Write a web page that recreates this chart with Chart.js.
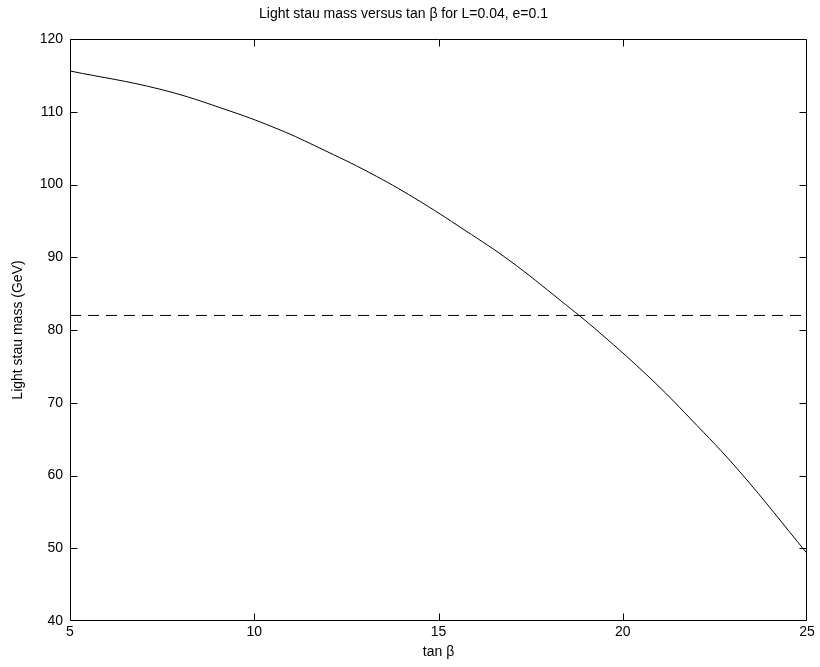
<!DOCTYPE html>
<html>
<head>
<meta charset="utf-8">
<script src="https://cdn.jsdelivr.net/npm/chart.js@4.4.1/dist/chart.umd.min.js"></script>
<style>
  html, body { margin: 0; padding: 0; background: #fff; }
  #wrap { width: 820px; height: 667px; }
</style>
</head>
<body>
<div id="wrap"><canvas id="c" width="820" height="667"></canvas></div>
<script>
// tan(beta) values where the curve was read
const tanBeta = [5, 7.44, 9.34, 10.70, 11.78, 13.14, 14.36, 15.72, 16.94, 18.30, 19.38, 20.74, 21.82, 23.18, 25];
// light stau mass (GeV)
const stauMass = [115.6, 113.1, 110.1, 107.5, 105.0, 101.6, 98.1, 93.7, 89.5, 84.1, 79.6, 73.4, 67.9, 60.5, 49.3];
// horizontal reference (experimental bound)
const boundX = [5, 25];
const boundY = [82, 82];
// tick labels
const xTicks = [5, 10, 15, 20, 25];
const yTicks = [40, 50, 60, 70, 80, 90, 100, 110, 120];

const FONT = '"Liberation Sans", Arial, Helvetica, sans-serif';

const boxPlugin = {
  id: 'matlabBox',
  afterDraw(chart) {
    const {ctx, chartArea: a, scales} = chart;
    ctx.save();
    ctx.strokeStyle = '#000';
    ctx.lineWidth = 1;
    const L = Math.round(a.left) + 0.5, R = Math.round(a.right) - 0.5;
    const T = Math.round(a.top) + 0.5, B = Math.round(a.bottom) - 0.5;
    ctx.beginPath();
    ctx.rect(L, T, R - L, B - T);
    ctx.stroke();
    const tl = 7;
    const clamp = (v, lo, hi) => Math.min(hi, Math.max(lo, v));
    ctx.beginPath();
    scales.x.ticks.forEach(t => {
      const px = clamp(Math.round(scales.x.getPixelForValue(t.value)) + 0.5, L, R);
      ctx.moveTo(px, B); ctx.lineTo(px, B - tl);
      ctx.moveTo(px, T); ctx.lineTo(px, T + tl);
    });
    scales.y.ticks.forEach(t => {
      const py = clamp(Math.round(scales.y.getPixelForValue(t.value)) + 0.5, T, B);
      ctx.moveTo(L, py); ctx.lineTo(L + tl, py);
      ctx.moveTo(R, py); ctx.lineTo(R - tl, py);
    });
    ctx.stroke();
    ctx.restore();
  }
};

new Chart(document.getElementById('c'), {
  type: 'line',
  data: {
    datasets: [
      {
        data: tanBeta.map((x, i) => ({x, y: stauMass[i]})),
        borderColor: '#000',
        borderWidth: 1,
        pointRadius: 0,
        tension: 0.4,
        fill: false
      },
      {
        data: boundX.map((x, i) => ({x, y: boundY[i]})),
        borderColor: '#000',
        borderWidth: 1,
        borderDash: [11, 7],
        pointRadius: 0,
        fill: false
      }
    ]
  },
  options: {
    responsive: false,
    animation: false,
    events: [],
    layout: { padding: { left: 0, right: 13, top: 0, bottom: 0 } },
    plugins: {
      legend: { display: false },
      tooltip: { enabled: false },
      title: {
        display: true,
        text: 'Light stau mass versus tan \u03b2 for L=0.04, e=0.1',
        color: '#000',
        font: { family: FONT, size: 14, weight: 'normal', lineHeight: 1.2 },
        padding: { top: 6, bottom: 16.2 }
      }
    },
    scales: {
      x: {
        type: 'linear',
        min: 5, max: 25,
        afterBuildTicks(s) { s.ticks = xTicks.map(v => ({value: v})); },
        afterFit(s) { s.height = 46; },
        grid: { display: false, drawTicks: false },
        border: { display: false },
        ticks: { color: '#000', padding: 3, maxRotation: 0, font: { family: FONT, size: 14 } },
        title: {
          display: true, text: 'tan \u03b2', color: '#000',
          font: { family: FONT, size: 14, lineHeight: 1.2 },
          padding: { top: 0, bottom: 6.6 }
        }
      },
      y: {
        type: 'linear',
        min: 40, max: 120,
        afterBuildTicks(s) { s.ticks = yTicks.map(v => ({value: v})); },
        afterFit(s) { s.width = 70; },
        grid: { display: false, drawTicks: false },
        border: { display: false },
        ticks: { color: '#000', padding: 7, font: { family: FONT, size: 14 } },
        title: {
          display: true, text: 'Light stau mass (GeV)', color: '#000',
          font: { family: FONT, size: 14, lineHeight: 1.2 },
          padding: { top: 10, bottom: 0 }
        }
      }
    }
  },
  plugins: [boxPlugin]
});
</script>
</body>
</html>
